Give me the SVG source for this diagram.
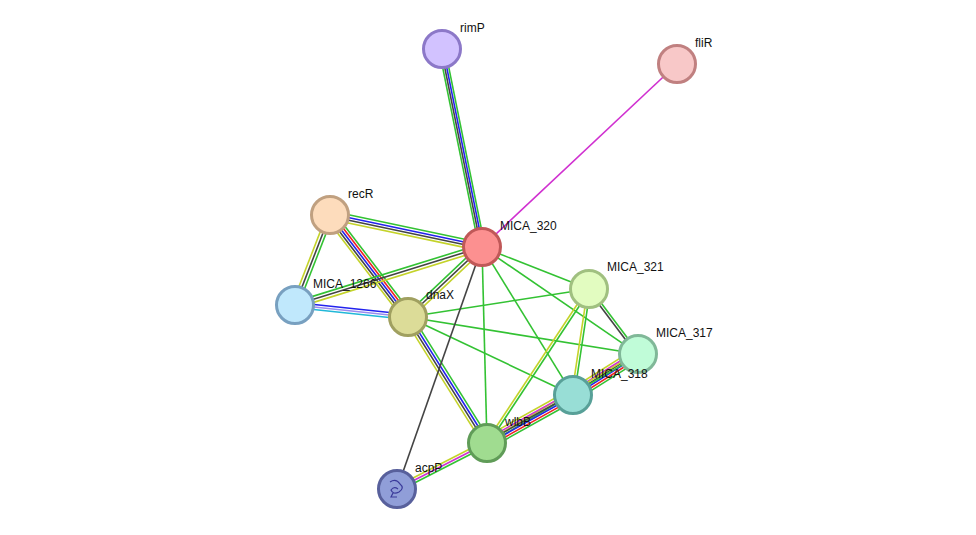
<svg xmlns="http://www.w3.org/2000/svg" width="976" height="535" viewBox="0 0 976 535">
<style>
line{stroke-width:1.6;fill:none}
.g{stroke:#33c233}.b{stroke:#2222ee}.k{stroke:#444}.y{stroke:#c4d32a}.r{stroke:#ee2222}.m{stroke:#d030d0}.c{stroke:#22b8d8}.p{stroke:#9a8cf0}
.n circle{stroke-width:3}
text{font-family:"Liberation Sans",Arial,sans-serif;font-size:12px;fill:#111}
</style>
<rect width="976" height="535" fill="#fff"/>
<g id="edges">
<g transform="translate(442,49) rotate(78.58)"><line class="g" x2="202" y1="-3" y2="-3"/><line class="b" x2="202" y1="-1" y2="-1"/><line class="k" x2="202" y1="1" y2="1"/><line class="g" x2="202" y1="3" y2="3"/></g>
<g transform="translate(677,64) rotate(136.8)"><line class="m" x2="267"/></g>
<g transform="translate(330,215) rotate(11.89)"><line class="g" x2="155" y1="-4" y2="-4"/><line class="b" x2="155" y1="-1.3" y2="-1.3"/><line class="k" x2="155" y1="1.3" y2="1.3"/><line class="y" x2="155" y1="4" y2="4"/></g>
<g transform="translate(330,215) rotate(111.25)"><line class="g" x2="97" y1="-3" y2="-3"/><line class="k" x2="97" y1="0" y2="0"/><line class="y" x2="97" y1="3" y2="3"/></g>
<g transform="translate(330,215) rotate(52.6)"><line class="g" x2="128" y1="-5" y2="-5"/><line class="r" x2="128" y1="-2.5" y2="-2.5"/><line class="b" x2="128" y1="0" y2="0"/><line class="k" x2="128" y1="2.5" y2="2.5"/><line class="y" x2="128" y1="5" y2="5"/></g>
<g transform="translate(295,305) rotate(-17.23)"><line class="g" x2="196" y1="-3" y2="-3"/><line class="k" x2="196" y1="0" y2="0"/><line class="y" x2="196" y1="3" y2="3"/></g>
<g transform="translate(295,305) rotate(6.06)"><line class="b" x2="114" y1="-2.5" y2="-2.5"/><line class="p" x2="114" y1="0" y2="0"/><line class="c" x2="114" y1="2.5" y2="2.5"/></g>
<g transform="translate(408,317) rotate(-43.4)"><line class="g" x2="102" y1="-3" y2="-3"/><line class="k" x2="102" y1="0" y2="0"/><line class="y" x2="102" y1="3" y2="3"/></g>
<g transform="translate(408,317) rotate(57.9)"><line class="g" x2="149" y1="-4" y2="-4"/><line class="b" x2="149" y1="-1.3" y2="-1.3"/><line class="k" x2="149" y1="1.3" y2="1.3"/><line class="y" x2="149" y1="4" y2="4"/></g>
<g transform="translate(408,317) rotate(-8.79)"><line class="g" x2="183"/></g>
<g transform="translate(408,317) rotate(9.14)"><line class="g" x2="233"/></g>
<g transform="translate(408,317) rotate(25.3)"><line class="g" x2="182"/></g>
<g transform="translate(482,247) rotate(21.43)"><line class="g" x2="115"/></g>
<g transform="translate(482,247) rotate(34.45)"><line class="g" x2="189"/></g>
<g transform="translate(482,247) rotate(58.4)"><line class="g" x2="174"/></g>
<g transform="translate(482,247) rotate(88.54)"><line class="g" x2="196"/></g>
<g transform="translate(482,247) rotate(109.36)"><line class="k" x2="256"/></g>
<g transform="translate(589,289) rotate(53)"><line class="g" x2="81" y1="-1.3" y2="-1.3"/><line class="k" x2="81" y1="1.3" y2="1.3"/></g>
<g transform="translate(589,289) rotate(98.58)"><line class="g" x2="107" y1="-1.3" y2="-1.3"/><line class="y" x2="107" y1="1.3" y2="1.3"/></g>
<g transform="translate(589,289) rotate(123.5)"><line class="g" x2="185" y1="-1.3" y2="-1.3"/><line class="y" x2="185" y1="1.3" y2="1.3"/></g>
<g transform="translate(638,354) rotate(147.76)"><line class="g" x2="77" y1="-6" y2="-6"/><line class="r" x2="77" y1="-3.6" y2="-3.6"/><line class="b" x2="77" y1="-1.2" y2="-1.2"/><line class="k" x2="77" y1="1.2" y2="1.2"/><line class="m" x2="77" y1="3.6" y2="3.6"/><line class="y" x2="77" y1="6" y2="6"/></g>
<g transform="translate(638,354) rotate(149.5)"><line class="g" x2="175" y1="-1.3" y2="-1.3"/><line class="y" x2="175" y1="1.3" y2="1.3"/></g>
<g transform="translate(573,395) rotate(150.8)"><line class="g" x2="98" y1="-6" y2="-6"/><line class="r" x2="98" y1="-3.6" y2="-3.6"/><line class="b" x2="98" y1="-1.2" y2="-1.2"/><line class="k" x2="98" y1="1.2" y2="1.2"/><line class="m" x2="98" y1="3.6" y2="3.6"/><line class="y" x2="98" y1="6" y2="6"/></g>
<g transform="translate(487,443) rotate(152.93)"><line class="g" x2="101" y1="-2.5" y2="-2.5"/><line class="m" x2="101" y1="0" y2="0"/><line class="y" x2="101" y1="2.5" y2="2.5"/></g>
</g>
<g id="rimP" class="n"><circle cx="442" cy="49" r="18.5" fill="#d2c2ff" stroke="#8c78c8"/><text x="460" y="32">rimP</text></g>
<g id="fliR" class="n"><circle cx="677" cy="64" r="18.5" fill="#f8c8c8" stroke="#c08080"/><text x="695" y="47">fliR</text></g>
<g id="recR" class="n"><circle cx="330" cy="215" r="18.5" fill="#fddcbc" stroke="#c0a080"/><text x="348" y="198">recR</text></g>
<g id="MICA_320" class="n"><circle cx="482" cy="247" r="18.5" fill="#fc9090" stroke="#c05858"/><text x="500" y="230">MICA_320</text></g>
<g id="MICA_321" class="n"><circle cx="589" cy="289" r="18.5" fill="#e2fcc0" stroke="#a0c080"/><text x="607" y="271">MICA_321</text></g>
<g id="MICA_1266" class="n"><circle cx="295" cy="305" r="18.5" fill="#c0e8fc" stroke="#78a0c0"/><text x="313" y="288">MICA_1266</text></g>
<g id="dnaX" class="n"><circle cx="408" cy="317" r="18.5" fill="#dcdc98" stroke="#a0a060"/><text x="426" y="299">dnaX</text></g>
<g id="MICA_317" class="n"><circle cx="638" cy="354" r="18.5" fill="#c0fcd8" stroke="#80b898"/><text x="656" y="337">MICA_317</text></g>
<g id="MICA_318" class="n"><circle cx="573" cy="395" r="18.5" fill="#98ded6" stroke="#58a098"/><text x="591" y="378">MICA_318</text></g>
<g id="wlbB" class="n"><circle cx="487" cy="443" r="18.5" fill="#a0dc90" stroke="#609c58"/><text x="505" y="426">wlbB</text></g>
<g id="acpP" class="n"><circle cx="397" cy="489" r="18.5" fill="#909ed8" stroke="#58609c"/><path d="M390 482 q6 -4 10 2 q5 4 -1 8 q-6 3 -8 -2 q3 -4 7 -1 M393 493 l-2 4 l6 0" stroke="#3a3a9a" stroke-width="1.2" fill="none"/><text x="415" y="472">acpP</text></g>
</svg>
